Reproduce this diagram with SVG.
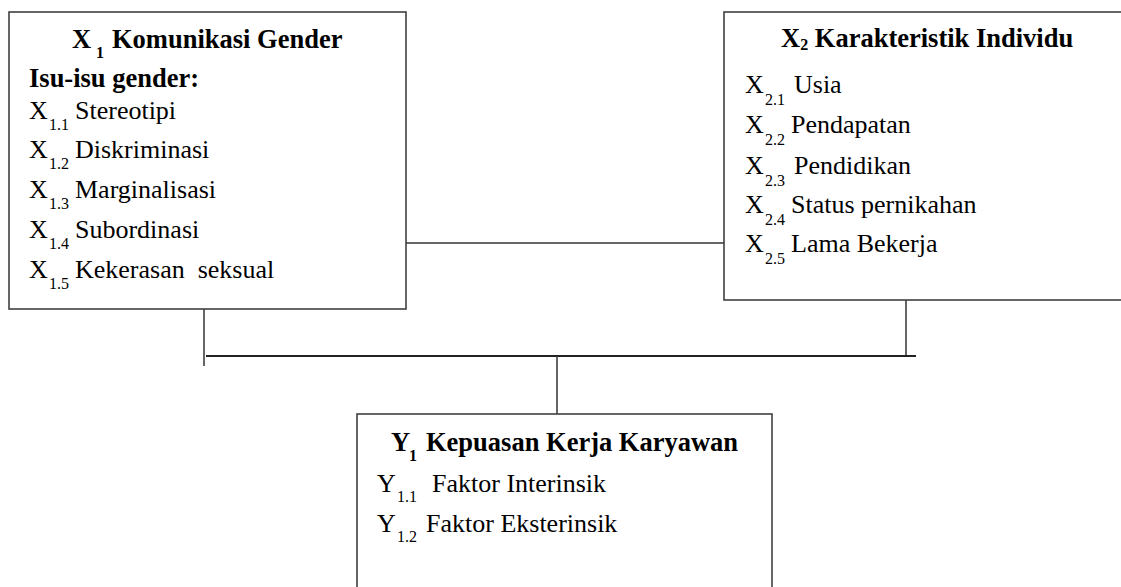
<svg xmlns="http://www.w3.org/2000/svg" width="1121" height="587" viewBox="0 0 1121 587">
<style>
.box{fill:#fff;stroke:#404040;stroke-width:1.6}
.ln{stroke:#333;stroke-width:1.5;fill:none}
.main{stroke:#222;stroke-width:2.2}
.t{font-size:26.5px;font-weight:bold}
.i{font-size:26px}
.s{font-size:16px}
.sb{font-size:16px;font-weight:bold}
</style>
<rect width="1121" height="587" fill="#fff"/>
<g id="connectors">
<line class="ln" x1="406" y1="243" x2="724" y2="243"/>
<line class="ln" x1="204" y1="309" x2="204" y2="366"/>
<line class="ln" x1="906" y1="300" x2="906" y2="357"/>
<line class="ln main" x1="206" y1="356" x2="916" y2="356"/>
<line class="ln" x1="557" y1="356" x2="557" y2="414"/>
</g>
<g font-family="'Liberation Serif', 'Times New Roman', serif" fill="#000">
<g id="x1">
<rect class="box" x="9" y="12" width="397" height="297"/>
<text class="t" x="72" y="48">X</text><text class="sb" x="96" y="58">1</text><text class="t" x="112" y="48">Komunikasi Gender</text>
<text class="t" x="29" y="87">Isu-isu gender:</text>
<text class="i" x="29" y="119">X</text><text class="s" x="49" y="130">1.1</text><text class="i" x="75" y="119">Stereotipi</text>
<text class="i" x="29" y="158">X</text><text class="s" x="49" y="169">1.2</text><text class="i" x="75" y="158">Diskriminasi</text>
<text class="i" x="29" y="198">X</text><text class="s" x="49" y="209">1.3</text><text class="i" x="75" y="198">Marginalisasi</text>
<text class="i" x="29" y="238">X</text><text class="s" x="49" y="249">1.4</text><text class="i" x="75" y="238">Subordinasi</text>
<text class="i" x="29" y="278">X</text><text class="s" x="49" y="289">1.5</text><text class="i" x="75" y="278" xml:space="preserve">Kekerasan  seksual</text>
</g>
<g id="x2">
<rect class="box" x="724" y="12" width="402" height="288"/>
<text class="t" x="781" y="47">X<tspan class="sb" dy="3">2</tspan><tspan dy="-3"> Karakteristik Individu</tspan></text>
<text class="i" x="745" y="93">X</text><text class="s" x="765" y="105">2.1</text><text class="i" x="794" y="93">Usia</text>
<text class="i" x="745" y="133">X</text><text class="s" x="765" y="145">2.2</text><text class="i" x="791" y="133">Pendapatan</text>
<text class="i" x="745" y="174">X</text><text class="s" x="765" y="186">2.3</text><text class="i" x="794" y="174">Pendidikan</text>
<text class="i" x="745" y="213">X</text><text class="s" x="765" y="225">2.4</text><text class="i" x="791" y="213">Status pernikahan</text>
<text class="i" x="745" y="252">X</text><text class="s" x="765" y="264">2.5</text><text class="i" x="791" y="252">Lama Bekerja</text>
</g>
<g id="y1">
<rect class="box" x="357" y="414" width="415" height="190"/>
<text class="t" x="391" y="451">Y</text><text class="sb" x="409" y="461">1</text><text class="t" x="426" y="451">Kepuasan Kerja Karyawan</text>
<text class="i" x="377" y="492">Y</text><text class="s" x="397" y="502">1.1</text><text class="i" x="432" y="492">Faktor Interinsik</text>
<text class="i" x="377" y="532">Y</text><text class="s" x="397" y="542">1.2</text><text class="i" x="426" y="532">Faktor Eksterinsik</text>
</g>
</g>
</svg>
